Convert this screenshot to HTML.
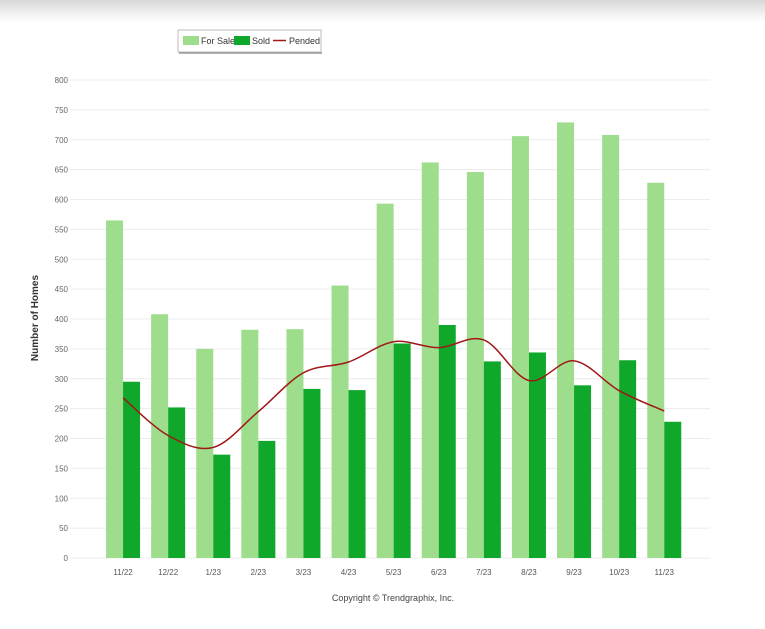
<!DOCTYPE html>
<html><head><meta charset="utf-8"><style>
body{margin:0;width:765px;height:629px;background:#fff;overflow:hidden;font-family:"Liberation Sans",sans-serif}
</style></head><body>
<div style="position:absolute;left:0;top:0;width:765px;height:22px;background:linear-gradient(#d8d8d8,#fff)"></div>
<svg id="c" width="765" height="629" style="position:absolute;left:0;top:0"></svg>
<script>
const categories=["11/22","12/22","1/23","2/23","3/23","4/23","5/23","6/23","7/23","8/23","9/23","10/23","11/23"];
const forSale=[565,408,350,382,383,456,593,662,646,706,729,708,628];
const sold=[295,252,173,196,283,281,359,390,329,344,289,331,228];
const pended=[268,205,185,245,310,328,362,352,365,297,330,280,246];
const yTicks=[0,50,100,150,200,250,300,350,400,450,500,550,600,650,700,750,800];
const svg=document.getElementById('c');const NS='http://www.w3.org/2000/svg';
function mk(t,a,p){const e=document.createElementNS(NS,t);for(const k in a)e.setAttribute(k,a[k]);(p||svg).appendChild(e);return e;}
const y0=558,y1=80,yMax=800;
const yS=v=>y0-(v/yMax)*(y0-y1);
const band=45.1,xStart=100.5;
const xC=i=>xStart+band*(i+0.5);
yTicks.forEach(t=>{
 const l=mk('line',{x1:70,x2:710,y1:yS(t),y2:yS(t),stroke:'#ececec','stroke-width':1});
 
 
 const tx=mk('text',{x:68,y:yS(t)+3,'text-anchor':'end','font-size':8,fill:'#666'});
 tx.textContent=t;
 
 
});
categories.forEach((c,i)=>{
 const b1=mk('rect',{x:xC(i)-17,y:yS(forSale[i]),width:17,height:y0-yS(forSale[i]),fill:'#9ddd8c'});
 
 
 const b2=mk('rect',{x:xC(i),y:yS(sold[i]),width:17,height:y0-yS(sold[i]),fill:'#10a82a'});
 
 
 const t=mk('text',{x:xC(i),y:575,'text-anchor':'middle','font-size':8,fill:'#555'});
 t.textContent=c;
 
 
});
// smooth pended line (Catmull-Rom)
const pts=pended.map((v,i)=>[xC(i),yS(v)]);
let d='M'+pts[0][0]+','+pts[0][1];
for(let i=0;i<pts.length-1;i++){
 const p0=pts[Math.max(0,i-1)],p1=pts[i],p2=pts[i+1],p3=pts[Math.min(pts.length-1,i+2)];
 const c1=[p1[0]+(p2[0]-p0[0])/6,p1[1]+(p2[1]-p0[1])/6],c2=[p2[0]-(p3[0]-p1[0])/6,p2[1]-(p3[1]-p1[1])/6];
 d+=` C${c1[0]},${c1[1]} ${c2[0]},${c2[1]} ${p2[0]},${p2[1]}`;
}
const pl=mk('path',{d:d,fill:'none',stroke:'#a01818','stroke-width':1.5});


const yt=mk('text',{x:38,y:318,'text-anchor':'middle','font-size':10,'font-weight':'bold',fill:'#333',transform:'rotate(-90 38 318)'});
yt.textContent='Number of Homes';


const cp=mk('text',{x:393,y:601,'text-anchor':'middle','font-size':9,fill:'#444'});
cp.textContent='Copyright © Trendgraphix, Inc.';


// legend
const lg=mk('g',{});


mk('rect',{x:178,y:30,width:143,height:22,fill:'#fff',stroke:'#bbb','stroke-width':1,filter:''},lg);
mk('line',{x1:179,x2:322,y1:53,y2:53,stroke:'#999','stroke-width':1.5},lg);
mk('rect',{x:183,y:36,width:16,height:9,fill:'#9ddd8c'},lg);
const t1=mk('text',{x:201,y:44,'font-size':9,fill:'#333'},lg);t1.textContent='For Sale';


mk('rect',{x:234,y:36,width:16,height:9,fill:'#10a82a'},lg);
const t2=mk('text',{x:252,y:44,'font-size':9,fill:'#333'},lg);t2.textContent='Sold';


mk('line',{x1:273,x2:286,y1:40.5,y2:40.5,stroke:'#a01818','stroke-width':1.5},lg);
const t3=mk('text',{x:289,y:44,'font-size':9,fill:'#333'},lg);t3.textContent='Pended';


</script>
</body></html>
